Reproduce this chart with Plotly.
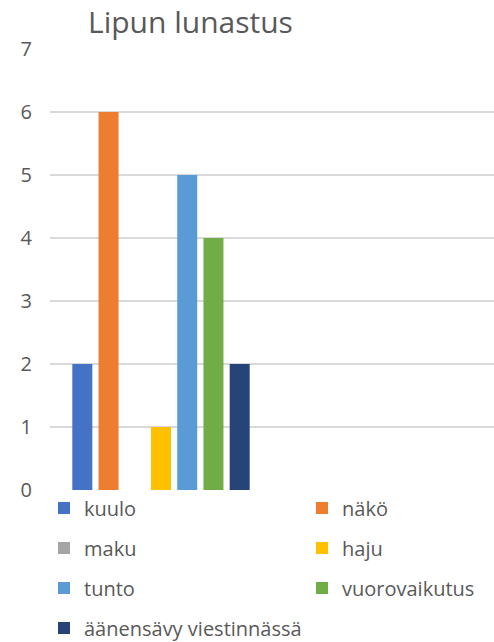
import plotly.graph_objects as go

# ---- data ----
categories = ["Lipun lunastus", "tyhjä"]          # second category is empty in the source chart
series_names = ["kuulo", "näkö", "maku", "haju", "tunto", "vuorovaikutus", "äänensävy viestinnässä"]
series_values = [2, 6, 0, 1, 5, 4, 2]
series_colors = ["#4472C4", "#ED7D31", "#A5A5A5", "#FFC000", "#5B9BD5", "#70AD47", "#264478"]
y_tick_values = [0, 1, 2, 3, 4, 5, 6, 7]
title_text = "Lipun lunastus"

W, H = 494, 642
FONT = "Open Sans"
GREY = "#595959"

# legend placement (two columns, four rows) in pixels
legend_cols = [44, 302]
legend_rows = [508, 548, 588, 628]

fig = go.Figure()
legend_layout = {}
for i, (name, val, col) in enumerate(zip(series_names, series_values, series_colors)):
    lid = "legend" if i == 0 else f"legend{i + 1}"
    fig.add_trace(go.Bar(
        x=categories,
        y=[val, 0],
        name=name,
        marker=dict(color=col, line=dict(width=0)),
        legend=lid,
    ))
    cx = legend_cols[i % 2]
    cy = legend_rows[i // 2]
    legend_layout[lid] = dict(
        xref="container", yref="container",
        x=cx / W, y=1 - cy / H,
        xanchor="left", yanchor="middle",
        orientation="v",
        font=dict(family=FONT, size=20, color=GREY),
        bgcolor="rgba(0,0,0,0)",
        borderwidth=0,
    )

fig.update_layout(
    width=W, height=H,
    margin=dict(l=50, r=0, t=49, b=152, pad=0, autoexpand=False),
    paper_bgcolor="white", plot_bgcolor="white",
    barmode="group",
    bargap=0.173,
    bargroupgap=0.237,
    showlegend=True,
    title=dict(
        text=title_text,
        font=dict(family=FONT, size=30, color=GREY),
        xref="container", yref="container",
        x=88 / W, xanchor="left",
        y=1 - 22.5 / H, yanchor="middle",
    ),
    xaxis=dict(
        type="category",
        range=[-0.5, 1.5],
        showticklabels=False,
        showgrid=False, zeroline=False, showline=False, ticks="",
    ),
    yaxis=dict(
        range=[0, 7],
        tickvals=y_tick_values,
        showgrid=True, gridcolor="#D9D9D9", gridwidth=2,
        zeroline=False, showline=False, ticks="",
        tickfont=dict(family=FONT, size=20, color=GREY),
        ticklabelstandoff=17,
    ),
    **legend_layout,
)

fig.write_html("out.html")
